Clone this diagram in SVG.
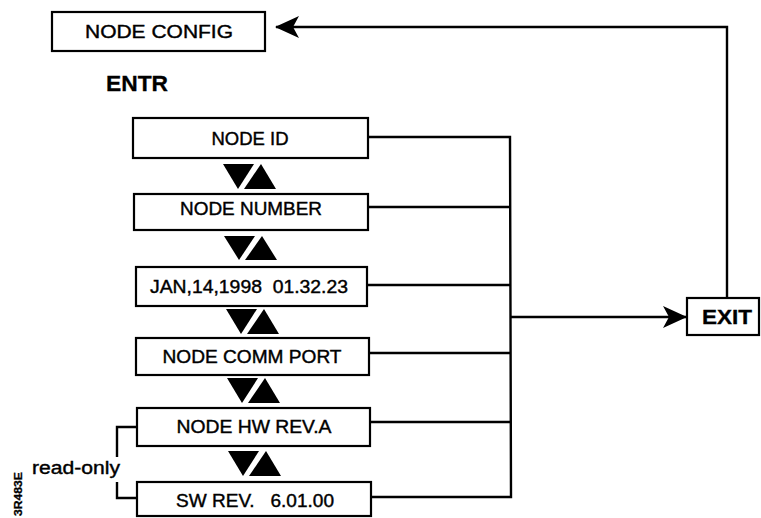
<svg xmlns="http://www.w3.org/2000/svg" width="761" height="518" viewBox="0 0 761 518">
<defs>
<style>
.box{fill:#fff;stroke:#000;stroke-width:2.2}
.t{font-family:"Liberation Sans",Arial,sans-serif;font-size:18px;fill:#000;stroke:#000;stroke-width:0.4;text-anchor:middle}
.b{font-weight:bold;stroke-width:0.3}
.ln{fill:none;stroke:#000;stroke-width:2.4}
.tri{fill:#000}
</style>
<marker id="ah" viewBox="0 0 24 22" refX="23" refY="11" markerWidth="24" markerHeight="22" markerUnits="userSpaceOnUse" orient="auto">
<path d="M0,0 L24,11 L0,22 L6,11 Z" fill="#000"/>
</marker>
</defs>
<rect width="761" height="518" fill="#fff"/>

<g id="connectors">
<path class="ln" d="M727,298 L727,27 L276,27" marker-end="url(#ah)"/>
<path class="ln" d="M368,137 L510,137 L511,497 L371,497"/>
<path class="ln" d="M368,207 L510,207"/>
<path class="ln" d="M367,285 L510,285"/>
<path class="ln" d="M369,353 L511,353"/>
<path class="ln" d="M370,422 L511,422"/>
<path class="ln" d="M510,317 L686,317" marker-end="url(#ah)"/>
<path class="ln" d="M137,427 L117,427 L117,457"/>
<path class="ln" d="M117,482 L117,498 L137,498"/>
<g class="tri">
<path d="M223,164 L254,164 L238,189 Z"/><path d="M244,189 L276,189 L261,164 Z"/>
<path d="M224,236 L255,236 L239,260 Z"/><path d="M245,260 L277,260 L262,236 Z"/>
<path d="M226,309 L257,309 L241,334 Z"/><path d="M247,334 L279,334 L264,309 Z"/>
<path d="M227,378 L258,378 L242,403 Z"/><path d="M248,403 L280,403 L265,378 Z"/>
<path d="M228,451 L259,451 L243,476 Z"/><path d="M249,476 L281,476 L266,451 Z"/>
</g>
</g>

<g id="node-config">
<rect class="box" x="52" y="12" width="213" height="39"/>
<text class="t" x="159" y="38" textLength="148" lengthAdjust="spacingAndGlyphs">NODE CONFIG</text>
</g>
<g id="entr">
<text class="t b" x="106" y="91" style="text-anchor:start;font-size:22px" textLength="62" lengthAdjust="spacingAndGlyphs">ENTR</text>
</g>
<g id="node-id">
<rect class="box" x="133" y="118" width="235" height="40"/>
<text class="t" x="250" y="145" textLength="77" lengthAdjust="spacingAndGlyphs">NODE ID</text>
</g>
<g id="node-number">
<rect class="box" x="134" y="194" width="234" height="36"/>
<text class="t" x="251" y="215" textLength="142" lengthAdjust="spacingAndGlyphs">NODE NUMBER</text>
</g>
<g id="date-time">
<rect class="box" x="136" y="267" width="231" height="39"/>
<text class="t" x="249" y="293" textLength="198" lengthAdjust="spacingAndGlyphs" xml:space="preserve">JAN,14,1998  01.32.23</text>
</g>
<g id="node-comm-port">
<rect class="box" x="136" y="338" width="233" height="37"/>
<text class="t" x="252" y="363" textLength="179" lengthAdjust="spacingAndGlyphs">NODE COMM PORT</text>
</g>
<g id="node-hw-rev">
<rect class="box" x="137" y="408" width="233" height="38"/>
<text class="t" x="254" y="433" textLength="155" lengthAdjust="spacingAndGlyphs">NODE HW REV.A</text>
</g>
<g id="sw-rev">
<rect class="box" x="137" y="482" width="234" height="34"/>
<text class="t" x="255" y="507" textLength="158" lengthAdjust="spacingAndGlyphs" xml:space="preserve">SW REV.   6.01.00</text>
</g>
<g id="exit">
<rect class="box" x="687" y="298" width="72" height="37"/>
<text class="t b" x="727" y="324" textLength="50" lengthAdjust="spacingAndGlyphs" style="font-size:20px">EXIT</text>
</g>
<g id="read-only">
<text class="t" x="32" y="474" style="text-anchor:start;font-size:18px" textLength="88" lengthAdjust="spacingAndGlyphs">read-only</text>
</g>
<text class="t b" transform="translate(22,494) rotate(-90)" style="font-size:11px" textLength="44" lengthAdjust="spacingAndGlyphs">3R483E</text>
</svg>
